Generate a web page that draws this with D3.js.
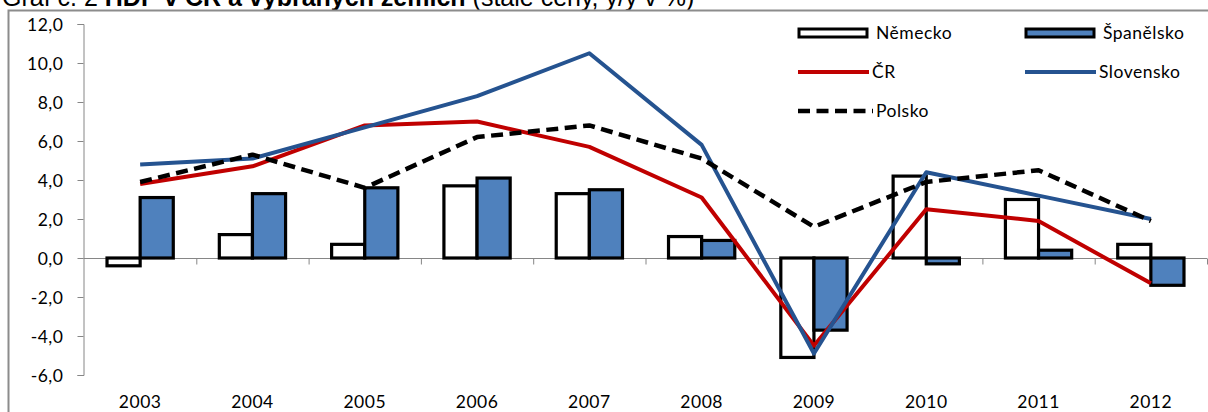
<!DOCTYPE html>
<html>
<head>
<meta charset="UTF-8">
<title>HDP v ČR a vybraných zemích</title>
<style>
  body { margin: 0; background: #ffffff; }
  svg { display: block; }
  .lbl { font-family: Lato, "Open Sans", sans-serif; font-size: 17.5px; letter-spacing: 0.5px; fill: #000; }
</style>
</head>
<body>
<svg id="chart" width="1208" height="412"></svg>
<script src="https://cdn.jsdelivr.net/npm/d3@7"></script>
<script>
// data
var years = ["2003", "2004", "2005", "2006", "2007", "2008", "2009", "2010", "2011", "2012"];
var nemecko    = [-0.4, 1.2, 0.7, 3.7, 3.3, 1.1, -5.1, 4.2, 3.0, 0.7];
var spanelsko  = [3.1, 3.3, 3.6, 4.1, 3.5, 0.9, -3.7, -0.3, 0.4, -1.4];
var cr         = [3.8, 4.7, 6.8, 7.0, 5.7, 3.1, -4.5, 2.5, 1.9, -1.3];
var slovensko  = [4.8, 5.1, 6.7, 8.3, 10.5, 5.8, -4.9, 4.4, 3.2, 2.0];
var polsko     = [3.9, 5.3, 3.6, 6.2, 6.8, 5.1, 1.6, 3.9, 4.5, 1.9];
var yTicks = [-6, -4, -2, 0, 2, 4, 6, 8, 10, 12];

var barSeries = [
  {name: "Německo", values: nemecko, fill: "#ffffff"},
  {name: "Španělsko", values: spanelsko, fill: "#4f81bd"}
];
var lineSeries = [
  {name: "ČR", values: cr, color: "#c00000", dash: null, width: 4},
  {name: "Slovensko", values: slovensko, color: "#255390", dash: null, width: 4},
  {name: "Polsko", values: polsko, color: "#000000", dash: "12,6.5", width: 4.5}
];

var svg = d3.select("#chart");
var fmt = function(v) { return d3.format(".1f")(v).replace(".", ",").replace("−", "-"); };

// title (top cut off in the original)
var title = svg.append("text")
  .attr("x", 2).attr("y", 6)
  .attr("font-family", "'Liberation Sans', Arial, sans-serif")
  .attr("font-size", 25);
title.append("tspan").text("Graf č. 2 ");
title.append("tspan").attr("font-weight", "bold").text("HDP v ČR a vybraných zemích");
title.append("tspan").text(" (stálé ceny, y/y v %)");

// chart frame
svg.append("rect")
  .attr("x", 8.5).attr("y", 10.5)
  .attr("width", 1300).attr("height", 500)
  .attr("fill", "#fff")
  .attr("stroke", "#8c8c8c").attr("stroke-width", 2);

var x = d3.scaleBand().domain(years).range([84, 1207]);
var y = d3.scaleLinear().domain([-6, 12]).range([375, 24]);
var x1 = d3.scaleBand().domain(barSeries.map(function(d) { return d.name; }))
  .range([x.bandwidth() * 0.205, x.bandwidth() * 0.795]);

// y axis
var yAxis = svg.append("g")
  .attr("transform", "translate(83.5,0)")
  .call(d3.axisLeft(y).tickValues(yTicks).tickSize(6).tickFormat(fmt));
yAxis.select(".domain").attr("stroke", "#868686");
yAxis.selectAll(".tick line").attr("stroke", "#868686");
yAxis.selectAll(".tick text").attr("class", "lbl").attr("x", -20).attr("dy", "0.35em");

// x axis at zero
var xAxis = svg.append("g")
  .attr("transform", "translate(0," + (y(0) + 0.5) + ")");
xAxis.append("line")
  .attr("x1", 83.5).attr("x2", 1207)
  .attr("stroke", "#868686").attr("stroke-width", 1.2);
xAxis.selectAll(".xt")
  .data(years)
  .enter().append("line")
  .attr("x1", function(d) { return x(d) + x.bandwidth() + 0.5; })
  .attr("x2", function(d) { return x(d) + x.bandwidth() + 0.5; })
  .attr("y1", 0).attr("y2", 6)
  .attr("stroke", "#868686");

// year labels at bottom
svg.append("g").selectAll("text")
  .data(years)
  .enter().append("text")
  .attr("class", "lbl")
  .attr("x", function(d) { return x(d) + x.bandwidth() / 2; })
  .attr("y", 408)
  .attr("text-anchor", "middle")
  .text(function(d) { return d; });

// bars
var barG = svg.append("g");
barSeries.forEach(function(s) {
  barG.selectAll(null)
    .data(s.values)
    .enter().append("rect")
    .attr("x", function(d, i) { return x(years[i]) + x1(s.name); })
    .attr("width", x1.bandwidth())
    .attr("y", function(d) { return y(Math.max(0, d)); })
    .attr("height", function(d) { return Math.abs(y(d) - y(0)); })
    .attr("fill", s.fill)
    .attr("stroke", "#000")
    .attr("stroke-width", 3.2);
});

// lines
var line = d3.line()
  .x(function(d, i) { return x(years[i]) + x.bandwidth() / 2; })
  .y(function(d) { return y(d); });
lineSeries.forEach(function(s) {
  svg.append("path")
    .datum(s.values)
    .attr("d", line)
    .attr("fill", "none")
    .attr("stroke", s.color)
    .attr("stroke-width", s.width)
    .attr("stroke-linejoin", "round")
    .attr("stroke-dasharray", s.dash);
});

// legend
var legendItems = [
  {s: barSeries[0], type: "bar", lx: 798, ly: 33},
  {s: barSeries[1], type: "bar", lx: 1025, ly: 33},
  {s: lineSeries[0], type: "line", lx: 798, ly: 72},
  {s: lineSeries[1], type: "line", lx: 1025, ly: 72},
  {s: lineSeries[2], type: "line", lx: 798, ly: 111}
];
var leg = svg.append("g").selectAll("g")
  .data(legendItems)
  .enter().append("g")
  .attr("transform", function(d) { return "translate(" + d.lx + "," + d.ly + ")"; });
leg.filter(function(d) { return d.type === "bar"; })
  .append("rect")
  .attr("x", 1).attr("y", -4).attr("width", 68).attr("height", 8)
  .attr("fill", function(d) { return d.s.fill; })
  .attr("stroke", "#000").attr("stroke-width", 3);
leg.filter(function(d) { return d.type === "line"; })
  .append("line")
  .attr("x1", 0).attr("x2", function(d) { return d.s.dash ? 75 : 71; })
  .attr("stroke", function(d) { return d.s.color; })
  .attr("stroke-width", function(d) { return d.s.width; })
  .attr("stroke-dasharray", function(d) { return d.s.dash; });
leg.append("text")
  .attr("class", "lbl")
  .attr("x", function(d) { return d.type === "bar" ? 78 : (d.s.dash ? 78 : 74); })
  .attr("dy", "0.35em")
  .text(function(d) { return d.s.name; });
</script>
</body>
</html>
